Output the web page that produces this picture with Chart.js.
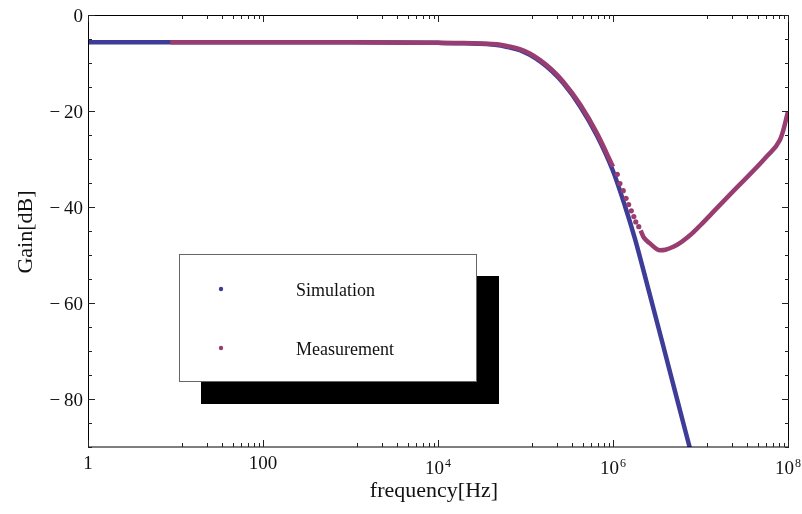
<!DOCTYPE html>
<html>
<head>
<meta charset="utf-8">
<script src="https://cdn.jsdelivr.net/npm/chart.js@4.4.1/dist/chart.umd.min.js"></script>
<style>
  body { margin: 0; background: #fff; }
</style>
</head>
<body>
<canvas id="gain" width="802" height="514"></canvas>
<script>
// simulation (Hz, dB)
const simFreq = [1, 10, 100, 1e3, 1e4, 2e4, 4.7e4, 6.3e4, 8.6e4, 1.12e5, 1.47e5, 2e5, 2.7e5, 4.2e5, 6.5e5,
  1e6, 1.37e6, 1.78e6, 2.51e6, 3.76e6, 5.25e6, 7.45e6, 1e7];
const simGain = [-5.7, -5.7, -5.7, -5.7, -5.8, -5.9, -6.25, -6.7, -7.3, -8.3, -9.7, -11.7, -14.2, -19.0, -25.0,
  -32.5, -39.8, -46.6, -56.8, -69.0, -79.2, -89.8, -98.7];

// measurement, dense part below 1 MHz
const measLowFreq = [8.7, 100, 1e3, 1e4, 2e4, 4.7e4, 6.3e4, 8.6e4, 1.12e5, 1.47e5, 2e5, 2.7e5, 4.2e5, 6.5e5, 1e6];
const measLowGain = [-5.7, -5.7, -5.7, -5.8, -5.85, -6.1, -6.5, -7.1, -8.0, -9.4, -11.4, -13.9, -18.6, -24.5, -31.6];

// measurement, sparse points between 1 and 2 MHz
const measDotFreq = [1.12e6, 1.2e6, 1.31e6, 1.41e6, 1.51e6, 1.62e6, 1.73e6, 1.82e6, 1.97e6];
const measDotGain = [-33.2, -35.1, -36.6, -38.2, -39.5, -40.8, -42.0, -43.1, -44.1];

// measurement, dense part above 2 MHz
const measHighFreq = [2.07e6, 2.24e6, 2.65e6, 3.44e6, 3.98e6, 4.89e6, 6.03e6, 7.59e6, 9.86e6, 1.51e7, 2.37e7,
  5.7e7, 8.11e7, 8.84e7, 9.66e7, 1e8];
const measHighGain = [-44.9, -46.3, -47.6, -49.0, -48.9, -48.3, -47.3, -45.9, -43.9, -40.4, -36.7,
  -29.5, -26.0, -24.0, -21.2, -20.1];

// axes
const xMajor = [1, 100, 1e4, 1e6, 1e8];
const xTickBase = ['1', '100', '10', '10', '10'];
const xTickExp = ['', '', '4', '6', '8'];
const yMajor = [0, -20, -40, -60, -80];
const yTickLabels = ['0', '\u2212\u200920', '\u2212\u200940', '\u2212\u200960', '\u2212\u200980'];
const legendLabels = ['Simulation', 'Measurement'];

const simColor = '#3d3d99';
const measColor = '#993d71';
const serif = '"Liberation Serif", "Times New Roman", serif';

const pts = (xs, ys) => xs.map((v, i) => ({ x: v, y: ys[i] }));

const framePlugin = {
  id: 'frame',
  afterDraw(chart) {
    const { ctx, chartArea: a, scales: { x, y } } = chart;
    ctx.save();

    // frame
    ctx.strokeStyle = '#000';
    ctx.lineWidth = 1;
    ctx.beginPath();
    ctx.moveTo(a.left + 0.5, a.bottom);
    ctx.lineTo(a.left + 0.5, a.top + 0.5);
    ctx.lineTo(a.right + 0.5, a.top + 0.5);
    ctx.lineTo(a.right + 0.5, a.bottom);
    ctx.stroke();
    ctx.beginPath();
    ctx.moveTo(a.left, a.bottom);
    ctx.lineTo(a.right + 1, a.bottom);
    ctx.stroke();

    // ticks, pointing inwards on all four sides
    ctx.strokeStyle = '#222';
    ctx.beginPath();
    const xTick = (v, len) => {
      const px = Math.round(x.getPixelForValue(v)) + 0.5;
      ctx.moveTo(px, a.bottom); ctx.lineTo(px, a.bottom - len);
      ctx.moveTo(px, a.top); ctx.lineTo(px, a.top + len);
    };
    const yTick = (v, len) => {
      const py = Math.round(y.getPixelForValue(v)) + 0.5;
      ctx.moveTo(a.left, py); ctx.lineTo(a.left + len, py);
      ctx.moveTo(a.right + 1, py); ctx.lineTo(a.right + 1 - len, py);
    };
    xMajor.forEach((v, i) => {
      xTick(v, 7);
      if (i < xMajor.length - 1) {
        for (let k = 1; k <= 8; k++) xTick(v * (1 + 11 * k), 4);
      }
    });
    for (let v = 0; v >= -90; v -= 5) yTick(v, v % 20 === 0 ? 7 : 4);
    ctx.stroke();

    // tick labels
    ctx.fillStyle = '#111';
    ctx.textBaseline = 'alphabetic';
    ctx.textAlign = 'right';
    ctx.font = '19px ' + serif;
    yMajor.forEach((v, i) => {
      ctx.fillText(yTickLabels[i], 83, y.getPixelForValue(v) + 6.5);
    });
    ctx.textAlign = 'left';
    xMajor.forEach((v, i) => {
      const px = x.getPixelForValue(v);
      ctx.font = '19px ' + serif;
      const bw = ctx.measureText(xTickBase[i]).width;
      if (!xTickExp[i]) {
        ctx.fillText(xTickBase[i], px - bw / 2, 469);
        return;
      }
      ctx.font = '12px ' + serif;
      const ew = ctx.measureText(xTickExp[i]).width;
      const x0 = px - (bw + 1 + ew) / 2;
      ctx.fillText(xTickExp[i], x0 + bw + 1, 467);
      ctx.font = '19px ' + serif;
      ctx.fillText(xTickBase[i], x0, 474);
    });

    // axis titles
    ctx.font = '22px ' + serif;
    ctx.textAlign = 'center';
    ctx.fillText('frequency[Hz]', 434, 497);
    ctx.save();
    ctx.translate(32, 232);
    ctx.rotate(-Math.PI / 2);
    ctx.fillText('Gain[dB]', 0, 0);
    ctx.restore();

    // legend with drop shadow
    ctx.fillStyle = '#000';
    ctx.fillRect(201, 276, 298, 128);
    ctx.fillStyle = '#fff';
    ctx.fillRect(180, 254, 297, 128);
    ctx.strokeStyle = '#666';
    ctx.strokeRect(179.5, 254.5, 297, 127);
    [simColor, measColor].forEach((c, i) => {
      const cy = 289 + i * 59;
      ctx.fillStyle = c;
      ctx.beginPath();
      ctx.arc(221, cy, 2.2, 0, Math.PI * 2);
      ctx.fill();
      ctx.fillStyle = '#111';
      ctx.font = '18px ' + serif;
      ctx.textAlign = 'left';
      ctx.fillText(legendLabels[i], 296, cy + 7);
    });

    ctx.restore();
  }
};

new Chart(document.getElementById('gain'), {
  type: 'line',
  data: {
    datasets: [
      {
        label: 'Measurement',
        data: pts(measLowFreq, measLowGain),
        borderColor: measColor, borderWidth: 4.5, pointRadius: 0,
        cubicInterpolationMode: 'monotone', clip: 0, order: 1
      },
      {
        label: 'Measurement',
        data: pts(measDotFreq, measDotGain),
        showLine: false, pointRadius: 2.6, pointBorderWidth: 0,
        pointBackgroundColor: measColor, clip: 0, order: 1
      },
      {
        label: 'Measurement',
        data: pts(measHighFreq, measHighGain),
        borderColor: measColor, borderWidth: 4.5, pointRadius: 0,
        cubicInterpolationMode: 'monotone', clip: 0, order: 1
      },
      {
        label: 'Simulation',
        data: pts(simFreq, simGain),
        borderColor: simColor, borderWidth: 4.5, pointRadius: 0,
        cubicInterpolationMode: 'monotone', clip: 0, order: 2
      }
    ]
  },
  options: {
    responsive: false,
    animation: false,
    layout: { padding: { top: 15, right: 14, left: 0, bottom: 0 } },
    plugins: { legend: { display: false }, tooltip: { enabled: false } },
    scales: {
      x: {
        type: 'logarithmic', min: 1, max: 1e8,
        ticks: { display: false }, grid: { display: false }, border: { display: false },
        afterFit: s => { s.height = 67; }
      },
      y: {
        min: -90, max: 0,
        ticks: { display: false }, grid: { display: false }, border: { display: false },
        afterFit: s => { s.width = 88; }
      }
    }
  },
  plugins: [framePlugin]
});
</script>
</body>
</html>
